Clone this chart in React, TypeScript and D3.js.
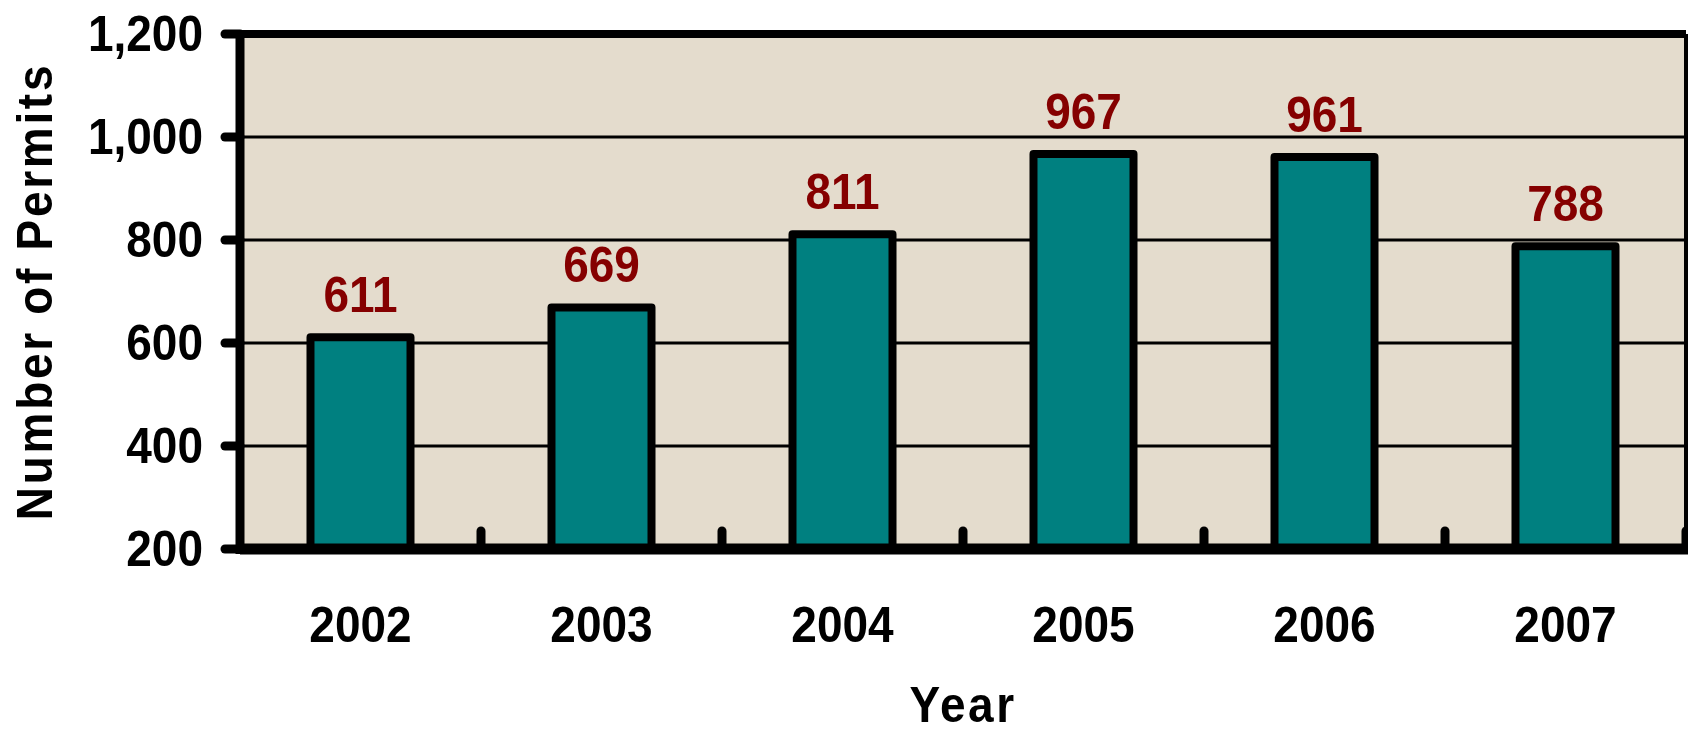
import { useEffect, useRef } from 'react';
import * as d3 from 'd3';

// data
const years = ['2002', '2003', '2004', '2005', '2006', '2007'];
const permits = [611, 669, 811, 967, 961, 788];
const yTicks = [200, 400, 600, 800, 1000, 1200];

const WIDTH = 1688;
const HEIGHT = 734;
const STRETCH = 1.1; // the reference glyphs are a bit taller than Arial

export default function App() {
  const svgRef = useRef<SVGSVGElement>(null);

  useEffect(() => {
    if (!svgRef.current) return;
    const root = d3.select(svgRef.current);
    root.selectAll('*').remove();

    const left = 240, right = 1686, top = 34, bottom = 549;
    const font = "'Liberation Sans', Arial, sans-serif";
    const place = (px: number, py: number) => `translate(${px},${py}) scale(1,${STRETCH})`;

    const x = d3.scaleBand<string>()
      .domain(years)
      .range([left, right])
      .paddingInner(0.585)
      .paddingOuter(0.2925);

    const y = d3.scaleLinear().domain([200, 1200]).range([bottom, top]);

    // background
    root.append('rect')
      .attr('x', left).attr('y', top)
      .attr('width', right - left).attr('height', bottom - top)
      .attr('fill', '#e4dccd');

    // gridlines
    root.append('g')
      .selectAll('line')
      .data(yTicks.filter(t => t > 200 && t < 1200))
      .join('line')
      .attr('x1', left).attr('x2', right)
      .attr('y1', d => y(d)).attr('y2', d => y(d))
      .attr('stroke', '#000').attr('stroke-width', 3);

    // top + right border
    root.append('line')
      .attr('x1', left).attr('x2', right)
      .attr('y1', y(1200)).attr('y2', y(1200))
      .attr('stroke', '#000').attr('stroke-width', 8);
    root.append('line')
      .attr('x1', right).attr('x2', right)
      .attr('y1', top).attr('y2', bottom)
      .attr('stroke', '#000').attr('stroke-width', 4);

    // bars
    root.append('g')
      .selectAll('rect')
      .data(permits)
      .join('rect')
      .attr('x', (_d, i) => x(years[i])!)
      .attr('y', d => y(d))
      .attr('width', x.bandwidth())
      .attr('height', d => bottom - y(d))
      .attr('fill', '#008080')
      .attr('stroke', '#000')
      .attr('stroke-width', 8)
      .attr('stroke-linejoin', 'round');

    // value labels
    root.append('g')
      .selectAll('text')
      .data(permits)
      .join('text')
      .attr('transform', (d, i) => place(x(years[i])! + x.bandwidth() / 2, y(d) - 25))
      .attr('text-anchor', 'middle')
      .attr('font-family', font)
      .attr('font-weight', 'bold')
      .attr('font-size', 46)
      .attr('fill', '#850000')
      .text(d => String(d));

    // category tick marks along the bottom
    const step = x.step();
    root.append('g')
      .selectAll('line')
      .data(d3.range(1, years.length + 1))
      .join('line')
      .attr('x1', i => left + i * step).attr('x2', i => left + i * step)
      .attr('y1', bottom).attr('y2', bottom - 18)
      .attr('stroke', '#000').attr('stroke-width', 9)
      .attr('stroke-linecap', 'round');

    // y ticks
    root.append('g')
      .selectAll('line')
      .data(yTicks)
      .join('line')
      .attr('x1', left - 15).attr('x2', left)
      .attr('y1', d => y(d)).attr('y2', d => y(d))
      .attr('stroke', '#000').attr('stroke-width', 9)
      .attr('stroke-linecap', 'round');

    // axes lines
    root.append('line')
      .attr('x1', left).attr('x2', left)
      .attr('y1', top - 4).attr('y2', bottom + 5)
      .attr('stroke', '#000').attr('stroke-width', 9);
    root.append('line')
      .attr('x1', left).attr('x2', right + 2)
      .attr('y1', bottom).attr('y2', bottom)
      .attr('stroke', '#000').attr('stroke-width', 11);

    // y tick labels
    const fmt = d3.format(',');
    root.append('g')
      .selectAll('text')
      .data(yTicks)
      .join('text')
      .attr('transform', d => place(left - 37, y(d) + 17))
      .attr('text-anchor', 'end')
      .attr('font-family', font)
      .attr('font-weight', 'bold')
      .attr('font-size', 46)
      .attr('fill', '#000')
      .text(d => fmt(d));

    // x tick labels
    root.append('g')
      .selectAll('text')
      .data(years)
      .join('text')
      .attr('transform', d => place(x(d)! + x.bandwidth() / 2, 642))
      .attr('text-anchor', 'middle')
      .attr('font-family', font)
      .attr('font-weight', 'bold')
      .attr('font-size', 46)
      .attr('fill', '#000')
      .text(d => d);

    // axis titles
    root.append('text')
      .attr('transform', place((left + right) / 2, 722))
      .attr('text-anchor', 'middle')
      .attr('font-family', font)
      .attr('font-weight', 'bold')
      .attr('font-size', 46)
      .attr('letter-spacing', 2.5)
      .text('Year');

    root.append('text')
      .attr('transform', `translate(52, ${(top + bottom) / 2}) rotate(-90) scale(1,${STRETCH})`)
      .attr('text-anchor', 'middle')
      .attr('font-family', font)
      .attr('font-weight', 'bold')
      .attr('font-size', 46)
      .attr('letter-spacing', 2.7)
      .text('Number of Permits');
  }, []);

  return (
    <svg
      ref={svgRef}
      width={WIDTH}
      height={HEIGHT}
      style={{ position: 'absolute', left: 0, top: 0, background: '#fff' }}
    />
  );
}
